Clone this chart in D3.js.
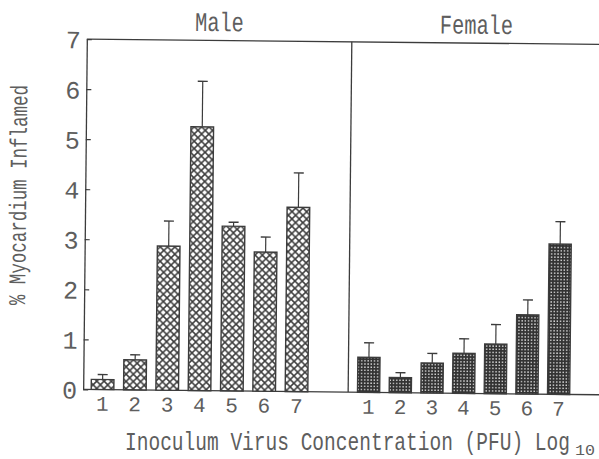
<!DOCTYPE html>
<html>
<head>
<meta charset="utf-8">
<script src="https://cdn.jsdelivr.net/npm/d3@7"></script>
<style>
  body { margin: 0; background: #fff; }
  text { font-family: "Liberation Mono", "DejaVu Sans Mono", monospace; fill: #5e5e5e; }
</style>
</head>
<body>
<div id="chart"></div>
<script>
// values (% myocardium inflamed, mean and SE)
var doses = [1, 2, 3, 4, 5, 6, 7];
var maleMean = [0.20, 0.60, 2.88, 5.27, 3.29, 2.78, 3.68];
var maleErr = [0.10, 0.10, 0.50, 0.91, 0.08, 0.30, 0.69];
var femaleMean = [0.70, 0.30, 0.60, 0.80, 0.99, 1.58, 3.00];
var femaleErr = [0.29, 0.10, 0.19, 0.29, 0.39, 0.30, 0.45];
var yTicks = [0, 1, 2, 3, 4, 5, 6, 7];
var panelNames = ["Male", "Female"];

var canvasWidth = 599, canvasHeight = 459;
var ink = "#3c3c3c";

var svg = d3.select("#chart").append("svg")
    .attr("width", canvasWidth)
    .attr("height", canvasHeight);

var defs = svg.append("defs");

// cross hatch for the male bars
var hatch = defs.append("pattern")
    .attr("id", "hatch")
    .attr("patternUnits", "userSpaceOnUse")
    .attr("width", 7.3)
    .attr("height", 7.3);
hatch.append("rect").attr("width", 7.3).attr("height", 7.3).attr("fill", "#fff");
hatch.append("path")
    .attr("d", "M-1,-1L8.3,8.3M8.3,-1L-1,8.3")
    .attr("stroke", ink)
    .attr("stroke-width", 1.5);

// dense dotted fill for the female bars
var dots = defs.append("pattern")
    .attr("id", "dots")
    .attr("patternUnits", "userSpaceOnUse")
    .attr("width", 3.2)
    .attr("height", 3.2);
dots.append("rect").attr("width", 3.2).attr("height", 3.2).attr("fill", "#333");
dots.append("rect").attr("x", 1).attr("y", 1).attr("width", 1.4).attr("height", 1.4).attr("fill", "#d8d8d8");

// the scanned page is turned slightly clockwise
var g = svg.append("g").attr("transform", "rotate(0.6,300,215)");

var y = d3.scaleLinear().domain([0, 7]).range([391.6, 41.3]);

var panels = [
  {name: panelNames[0], left: 85, right: 350, mean: maleMean, err: maleErr, fill: "url(#hatch)",
   x: d3.scaleBand().domain(doses).range([88.2, 314.5]).paddingInner(0.3).paddingOuter(0.15)},
  {name: panelNames[1], left: 350, right: 620, mean: femaleMean, err: femaleErr, fill: "url(#dots)",
   x: d3.scaleBand().domain(doses).range([354.6, 576.3]).paddingInner(0.3).paddingOuter(0.15)}
];

// frame lines
g.append("line")
  .attr("x1", 85).attr("x2", 620)
  .attr("y1", y(7)).attr("y2", y(7))
  .style("stroke", ink).style("stroke-width", 1.3);
g.append("line")
  .attr("x1", 85).attr("x2", 620)
  .attr("y1", y(0)).attr("y2", y(0))
  .style("stroke", ink).style("stroke-width", 1.3);
g.append("line")
  .attr("x1", 350).attr("x2", 350)
  .attr("y1", y(7)).attr("y2", y(0))
  .style("stroke", ink).style("stroke-width", 1.3);

// y axis, ticks pointing inward
var yAxis = g.append("g")
    .attr("transform", "translate(85,0)")
    .call(d3.axisLeft(y).tickValues(yTicks).tickFormat(d3.format("d"))
      .tickSizeInner(-5).tickSizeOuter(0).tickPadding(6));
yAxis.select(".domain").style("stroke", ink).style("stroke-width", 1.3);
yAxis.selectAll(".tick line").style("stroke", ink).style("stroke-width", 1.2);
yAxis.selectAll(".tick text")
    .style("font-size", "25px")
    .style("font-family", "Liberation Mono")
    .attr("dy", "0.36em")
    .attr("fill", "#5e5e5e");

panels.forEach(function(p) {
  var rows = doses.map(function(d, i) { return {dose: d, mean: p.mean[i], err: p.err[i]}; });
  var x = p.x;

  // error bars (drawn behind the bars, only the upper half shows)
  var eb = g.append("g").selectAll("g").data(rows).enter().append("g");
  eb.append("line")
    .attr("x1", function(d) { return x(d.dose) + x.bandwidth() / 2; })
    .attr("x2", function(d) { return x(d.dose) + x.bandwidth() / 2; })
    .attr("y1", function(d) { return y(d.mean); })
    .attr("y2", function(d) { return y(d.mean + d.err); })
    .style("stroke", ink).style("stroke-width", 1.2);
  eb.append("line")
    .attr("x1", function(d) { return x(d.dose) + x.bandwidth() / 2 - 5; })
    .attr("x2", function(d) { return x(d.dose) + x.bandwidth() / 2 + 5; })
    .attr("y1", function(d) { return y(d.mean + d.err); })
    .attr("y2", function(d) { return y(d.mean + d.err); })
    .style("stroke", ink).style("stroke-width", 1.4);

  g.append("g").selectAll("rect").data(rows).enter().append("rect")
    .attr("x", function(d) { return x(d.dose); })
    .attr("y", function(d) { return y(d.mean); })
    .attr("width", x.bandwidth())
    .attr("height", function(d) { return y(0) - y(d.mean); })
    .attr("fill", p.fill)
    .style("stroke", ink)
    .style("stroke-width", 1.4);

  // dose labels
  g.append("g").selectAll("text").data(rows).enter().append("text")
    .attr("x", function(d) { return x(d.dose) + x.bandwidth() / 2; })
    .attr("y", 413)
    .attr("text-anchor", "middle")
    .style("font-size", "21px")
    .text(function(d) { return d.dose; });

  // panel title
  g.append("text")
    .attr("x", (p.left + Math.min(p.right, 599)) / 2)
    .attr("y", 32)
    .attr("text-anchor", "middle")
    .attr("textLength", p.name.length * 12.2)
    .attr("lengthAdjust", "spacingAndGlyphs")
    .style("font-size", "27px")
    .text(p.name);
});

g.append("text")
  .attr("transform", "translate(26,198) rotate(-90)")
  .attr("text-anchor", "middle")
  .attr("textLength", 220)
  .attr("lengthAdjust", "spacingAndGlyphs")
  .style("font-size", "24px")
  .text("% Myocardium Inflamed");

// x axis title sits level on the page
svg.append("text")
  .attr("x", 125)
  .attr("y", 450)
  .attr("textLength", 445)
  .attr("lengthAdjust", "spacingAndGlyphs")
  .style("font-size", "25px")
  .text("Inoculum Virus Concentration (PFU) Log");
svg.append("text")
  .attr("x", 575)
  .attr("y", 455)
  .attr("textLength", 20)
  .attr("lengthAdjust", "spacingAndGlyphs")
  .style("font-size", "14px")
  .text("10");
</script>
</body>
</html>
